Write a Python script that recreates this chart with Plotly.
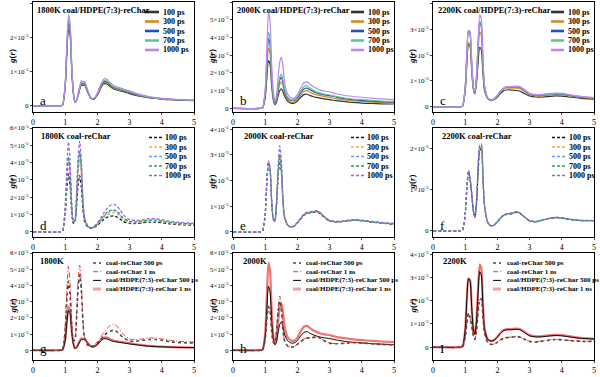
import plotly.graph_objects as go

# ---------------- data (g(r) in units of 1e-5) ----------------
R = [0, 0.85, 0.92, 1.0, 1.05, 1.1, 1.15, 1.2, 1.25, 1.3, 1.35, 1.4, 1.45, 1.5, 1.55, 1.6, 1.7, 1.8, 1.9,
     2.0, 2.1, 2.2, 2.3, 2.4, 2.5, 2.6, 2.7, 2.8, 3.0, 3.2, 3.4, 3.6, 3.8, 4.0, 4.3, 4.6, 5.0]

times = ["100 ps", "300 ps", "500 ps", "700 ps", "1000 ps"]

# 1800K coal/HDPE(7:3)-reChar
a100 = [0,0,0.03,0.55,1.5,2.25,2.1,1.1,0.4,0.12,0.15,0.3,0.48,0.62,0.6,0.62,0.4,0.22,0.2,0.32,0.52,0.65,0.64,0.56,0.5,0.47,0.44,0.42,0.36,0.31,0.27,0.24,0.22,0.2,0.18,0.17,0.15]
a300 = [0,0,0.03,0.58,1.6,2.38,2.2,1.15,0.4,0.12,0.15,0.31,0.5,0.65,0.63,0.65,0.42,0.22,0.21,0.34,0.55,0.69,0.68,0.59,0.52,0.49,0.46,0.44,0.38,0.33,0.28,0.25,0.22,0.2,0.18,0.17,0.16]
a500 = [0,0,0.03,0.6,1.65,2.45,2.28,1.2,0.42,0.12,0.16,0.32,0.52,0.67,0.65,0.66,0.43,0.23,0.22,0.35,0.57,0.71,0.7,0.61,0.54,0.51,0.48,0.45,0.39,0.34,0.29,0.25,0.23,0.21,0.19,0.17,0.16]
a700 = [0,0,0.03,0.62,1.7,2.52,2.33,1.22,0.42,0.13,0.16,0.33,0.53,0.69,0.67,0.68,0.44,0.23,0.22,0.36,0.59,0.74,0.73,0.64,0.56,0.53,0.5,0.47,0.41,0.35,0.3,0.26,0.23,0.21,0.19,0.18,0.16]
a1000 = [0,0,0.03,0.65,1.8,2.68,2.45,1.28,0.45,0.13,0.17,0.35,0.56,0.74,0.71,0.72,0.46,0.24,0.23,0.38,0.62,0.79,0.78,0.68,0.6,0.56,0.53,0.5,0.44,0.37,0.32,0.27,0.24,0.22,0.2,0.18,0.17]

# 2000K coal/HDPE(7:3)-reChar
b100 = [0,0,0.03,0.6,1.7,2.7,2.5,1.3,0.5,0.22,0.35,0.7,1.0,1.1,0.95,0.7,0.4,0.3,0.3,0.42,0.62,0.78,0.8,0.72,0.66,0.62,0.58,0.55,0.5,0.44,0.4,0.36,0.33,0.3,0.28,0.26,0.25]
b300 = [0,0,0.03,0.75,2.1,3.4,3.1,1.6,0.6,0.3,0.45,0.95,1.35,1.5,1.3,0.9,0.5,0.36,0.36,0.5,0.75,0.95,1.0,0.9,0.82,0.77,0.72,0.68,0.62,0.55,0.5,0.45,0.42,0.4,0.36,0.33,0.3]
b500 = [0,0,0.03,0.85,2.5,3.95,3.6,1.85,0.7,0.33,0.5,1.1,1.58,1.75,1.5,1.0,0.58,0.45,0.45,0.6,0.88,1.1,1.15,1.04,0.95,0.88,0.82,0.78,0.72,0.64,0.57,0.52,0.48,0.45,0.41,0.38,0.35]
b700 = [0,0,0.03,0.9,2.7,4.3,3.9,2.0,0.75,0.35,0.55,1.2,1.75,1.95,1.65,1.1,0.62,0.5,0.5,0.66,0.98,1.22,1.28,1.15,1.02,0.93,0.87,0.82,0.76,0.68,0.61,0.56,0.52,0.5,0.46,0.42,0.4]
b1000 = [0,0,0.04,1.1,3.3,5.4,4.9,2.5,0.95,0.45,0.75,1.7,2.6,2.9,2.4,1.5,0.8,0.6,0.58,0.78,1.15,1.45,1.5,1.36,1.22,1.12,1.05,1.0,0.93,0.83,0.76,0.7,0.66,0.63,0.58,0.54,0.5]

# 2200K coal/HDPE(7:3)-reChar
c100 = [0,0,0.03,0.6,1.65,2.4,2.35,1.45,0.7,0.5,0.9,1.7,2.3,2.2,1.3,0.65,0.32,0.25,0.28,0.38,0.52,0.62,0.66,0.65,0.64,0.63,0.6,0.54,0.42,0.38,0.38,0.4,0.42,0.41,0.37,0.33,0.3]
c300 = [0,0,0.03,0.62,1.7,2.48,2.4,1.5,0.72,0.52,1.0,2.1,2.9,2.75,1.55,0.72,0.33,0.26,0.3,0.42,0.58,0.7,0.73,0.72,0.72,0.72,0.7,0.63,0.47,0.42,0.42,0.45,0.47,0.46,0.41,0.36,0.33]
c500 = [0,0,0.04,0.75,2.05,2.95,2.85,1.75,0.8,0.55,1.1,2.35,3.25,3.1,1.75,0.78,0.34,0.26,0.3,0.43,0.6,0.72,0.75,0.75,0.76,0.77,0.75,0.67,0.49,0.44,0.45,0.48,0.5,0.49,0.43,0.38,0.35]
c700 = [0,0,0.04,0.72,2.0,2.85,2.78,1.72,0.78,0.56,1.12,2.4,3.3,3.15,1.78,0.8,0.34,0.26,0.3,0.43,0.6,0.72,0.76,0.76,0.77,0.78,0.76,0.68,0.5,0.45,0.46,0.49,0.51,0.5,0.44,0.39,0.35]
c1000 = [0,0,0.04,0.75,2.05,2.95,2.9,1.8,0.8,0.58,1.15,2.5,3.55,3.4,1.9,0.85,0.35,0.27,0.31,0.45,0.62,0.74,0.78,0.78,0.79,0.8,0.78,0.7,0.52,0.47,0.48,0.51,0.53,0.52,0.46,0.4,0.36]

# 1800K coal-reChar
d100 = [0,0,0.05,1.0,2.4,3.35,2.7,1.2,0.5,0.55,1.4,2.7,3.25,2.6,1.3,0.6,0.28,0.2,0.25,0.38,0.55,0.72,0.84,0.9,0.92,0.86,0.74,0.6,0.48,0.48,0.52,0.56,0.56,0.52,0.45,0.41,0.38]
d300 = [0,0,0.06,1.2,2.9,4.05,3.3,1.45,0.6,0.6,1.7,3.4,4.15,3.3,1.6,0.7,0.3,0.21,0.27,0.42,0.62,0.82,0.98,1.06,1.1,1.03,0.88,0.7,0.53,0.52,0.57,0.62,0.62,0.57,0.49,0.44,0.42]
d500 = [0,0,0.06,1.25,3.0,4.25,3.45,1.5,0.62,0.62,1.85,3.8,4.65,3.7,1.75,0.75,0.32,0.22,0.28,0.45,0.67,0.9,1.08,1.18,1.23,1.15,0.98,0.78,0.58,0.56,0.61,0.66,0.66,0.61,0.52,0.47,0.45]
d700 = [0,0,0.06,1.3,3.1,4.35,3.55,1.55,0.63,0.63,1.85,3.8,4.65,3.7,1.75,0.76,0.33,0.22,0.29,0.47,0.7,0.94,1.13,1.24,1.29,1.2,1.02,0.81,0.6,0.58,0.63,0.68,0.68,0.63,0.54,0.49,0.46]
d1000 = [0,0,0.07,1.55,3.7,5.2,4.2,1.8,0.72,0.7,2.1,4.3,5.25,4.2,2.0,0.85,0.36,0.24,0.32,0.52,0.8,1.1,1.35,1.52,1.6,1.5,1.27,1.0,0.7,0.66,0.7,0.76,0.76,0.7,0.6,0.54,0.5]

# 2000K coal-reChar
e100 = [0,0,0.04,0.7,1.9,2.7,2.45,1.2,0.5,0.4,1.0,2.1,2.75,2.35,1.2,0.55,0.25,0.18,0.22,0.35,0.5,0.65,0.72,0.74,0.76,0.78,0.72,0.6,0.42,0.38,0.4,0.43,0.45,0.43,0.38,0.34,0.3]
e300 = [0,0,0.04,0.68,1.85,2.62,2.4,1.18,0.5,0.42,1.05,2.25,2.95,2.5,1.25,0.57,0.26,0.18,0.22,0.36,0.52,0.67,0.74,0.76,0.78,0.8,0.74,0.62,0.43,0.39,0.41,0.44,0.46,0.44,0.39,0.35,0.31]
e500 = [0,0,0.04,0.7,1.9,2.68,2.45,1.2,0.5,0.42,1.08,2.3,3.05,2.58,1.28,0.58,0.26,0.19,0.23,0.37,0.53,0.68,0.75,0.77,0.79,0.81,0.75,0.63,0.44,0.4,0.42,0.45,0.47,0.45,0.4,0.36,0.32]
e700 = [0,0,0.04,0.71,1.92,2.72,2.48,1.22,0.5,0.42,1.06,2.25,2.98,2.52,1.26,0.57,0.26,0.19,0.23,0.36,0.52,0.67,0.74,0.76,0.78,0.8,0.74,0.62,0.43,0.39,0.41,0.44,0.46,0.44,0.39,0.35,0.31]
e1000 = [0,0,0.04,0.72,1.95,2.78,2.52,1.25,0.52,0.44,1.2,2.55,3.35,2.85,1.4,0.62,0.27,0.19,0.23,0.37,0.54,0.69,0.77,0.79,0.81,0.83,0.77,0.64,0.45,0.41,0.43,0.46,0.48,0.46,0.41,0.37,0.33]

# 2200K coal-reChar
f100 = [0,0,0.02,0.4,1.0,1.42,1.25,0.9,0.5,0.33,0.65,1.4,1.95,2.0,1.3,0.6,0.2,0.12,0.14,0.22,0.31,0.38,0.4,0.41,0.43,0.45,0.42,0.36,0.24,0.22,0.26,0.3,0.32,0.31,0.27,0.25,0.25]
f300 = [0,0,0.02,0.42,1.02,1.45,1.27,0.92,0.5,0.32,0.68,1.45,2.0,2.05,1.32,0.6,0.2,0.12,0.14,0.22,0.31,0.38,0.41,0.42,0.44,0.46,0.43,0.36,0.24,0.22,0.26,0.3,0.32,0.31,0.27,0.25,0.25]
f500 = [0,0,0.02,0.42,1.03,1.46,1.28,0.93,0.51,0.33,0.7,1.5,2.05,2.08,1.34,0.61,0.2,0.12,0.14,0.22,0.32,0.39,0.41,0.42,0.44,0.46,0.43,0.37,0.25,0.22,0.26,0.3,0.33,0.32,0.28,0.25,0.25]
f700 = [0,0,0.02,0.41,1.02,1.45,1.27,0.92,0.5,0.33,0.7,1.52,2.08,2.12,1.36,0.62,0.2,0.12,0.14,0.22,0.31,0.38,0.41,0.42,0.44,0.46,0.43,0.36,0.24,0.22,0.26,0.3,0.32,0.31,0.27,0.25,0.25]
f1000 = [0,0,0.02,0.43,1.04,1.47,1.29,0.93,0.51,0.34,0.71,1.5,2.05,2.08,1.34,0.61,0.21,0.12,0.14,0.23,0.32,0.39,0.42,0.43,0.45,0.47,0.44,0.37,0.25,0.23,0.27,0.31,0.33,0.32,0.28,0.26,0.25]

panel_titles = ["1800K coal/HDPE(7:3)-reChar", "2000K coal/HDPE(7:3)-reChar", "2200K coal/HDPE(7:3)-reChar",
                "1800K coal-reChar", "2000K coal-reChar", "2200K coal-reChar",
                "1800K", "2000K", "2200K"]
panel_letters = ["a", "b", "c", "d", "e", "f", "g", "h", "I"]
compare_names = ["coal-reChar 500 ps", "coal-reChar 1 ns", "coal/HDPE(7:3)-reChar 500 ps", "coal/HDPE(7:3)-reChar 1 ns"]

y_ranges = [[-0.18, 3.05], [-0.2, 6.0], [-0.2, 4.05],
            [-0.3, 6.0], [-0.2, 4.05], [-0.15, 2.5],
            [-0.6, 6.0], [-0.6, 6.0], [-0.55, 4.05]]
y_tickmax = [3, 6, 4, 6, 4, 2, 6, 6, 4]
x_ticks = [0, 1, 2, 3, 4, 5]

# ---------------- styles ----------------
solid_colors = ["#333333", "#d18f1c", "#1f4fbf", "#5fc596", "#bd86f0"]
dash_colors = ["#111111", "#f0ae3c", "#65a2e6", "#22a466", "#9d5ce6"]
FONT = "Liberation Serif"

cols = [(33, 194), (233, 394), (433, 594)]
rows = [(2, 112), (128, 237), (253, 360)]
W, H = 600, 377

def px(x):
    return x / W

def py(y):
    return 1 - y / H

fig = go.Figure()
annotations = []
shapes = []

series_sets = [
    [a100, a300, a500, a700, a1000],
    [b100, b300, b500, b700, b1000],
    [c100, c300, c500, c700, c1000],
    [d100, d300, d500, d700, d1000],
    [e100, e300, e500, e700, e1000],
    [f100, f300, f500, f700, f1000],
]
compare_sets = [
    [d500, d1000, a500, a1000],
    [e500, e1000, b500, b1000],
    [f500, f1000, c500, c1000],
]
cmp_styles = [
    dict(color="#4a4a4a", width=1.6, dash="3px,3px"),
    dict(color="#ff3333", width=1.0, dash="5px,2px,1px,2px"),
    dict(color="#000000", width=1.0, dash="solid"),
    dict(color="rgba(240,80,80,0.8)", width=2.2, dash="solid"),
]
legend_text_x = [128, 133, 133, 130, 132, 134, 71, 71, 72]
legend_samp = [(112, 126), (118, 131), (118, 131), (116, 129), (118, 131), (119, 132), (60, 68), (60, 68), (60, 68)]

for p in range(9):
    r, c = divmod(p, 3)
    ax = "" if p == 0 else str(p + 1)
    x0, x1 = cols[c]
    y0, y1 = rows[r]
    if p < 6:
        for k in range(5):
            dash = "solid" if p < 3 else "3px,2px"
            col = solid_colors[k] if p < 3 else dash_colors[k]
            fig.add_trace(go.Scatter(x=R, y=series_sets[p][k], mode="lines", name=times[k],
                                     line=dict(color=col, width=1.2, dash=dash, shape="spline", smoothing=0.6),
                                     xaxis="x" + ax, yaxis="y" + ax, showlegend=False, hoverinfo="skip"))
        names = times
        styles = [dict(color=(solid_colors[k] if p < 3 else dash_colors[k]), width=2.6 if p < 3 else 1.6,
                       dash=("solid" if p < 3 else "3px,2px")) for k in range(5)]
        offs = [10, 19.5, 29, 38.5, 48] if p < 3 else [9.5, 19, 28.5, 38, 47.5]
        fsz = 8
    else:
        order = [3, 2, 1, 0]
        for k in order:
            st = cmp_styles[k]
            fig.add_trace(go.Scatter(x=R, y=compare_sets[p - 6][k], mode="lines", name=compare_names[k],
                                     line=dict(color=st["color"], width=st["width"], dash=st["dash"],
                                               shape="spline", smoothing=0.6),
                                     xaxis="x" + ax, yaxis="y" + ax, showlegend=False, hoverinfo="skip"))
        names = compare_names
        styles = [dict(cmp_styles[0]), dict(cmp_styles[1]), dict(cmp_styles[2]),
                  dict(color="rgba(240,120,120,0.7)", width=3, dash="solid")]
        offs = [10, 18.7, 27.4, 36]
        fsz = 7
    # legend (manual)
    sx0, sx1 = legend_samp[p]
    for k, nm in enumerate(names):
        yy = y0 + offs[k]
        shapes.append(dict(type="line", xref="paper", yref="paper",
                           x0=px(x0 + sx0), x1=px(x0 + sx1), y0=py(yy), y1=py(yy),
                           line=dict(color=styles[k]["color"], width=styles[k]["width"], dash=styles[k]["dash"])))
        annotations.append(dict(text="<b>" + nm + "</b>", x=px(x0 + legend_text_x[p]), y=py(yy),
                                xref="paper", yref="paper", xanchor="left", yanchor="middle",
                                showarrow=False, font=dict(family=FONT, size=fsz, color="black")))
    # panel title
    tx = [35, 235, 436, 39, 242, 440, 38, 241, 441][p]
    annotations.append(dict(text="<b>" + panel_titles[p] + "</b>", x=px(tx), y=py(y0 + 8),
                            xref="paper", yref="paper", xanchor="left", yanchor="middle",
                            showarrow=False, font=dict(family=FONT, size=8.5, color="black")))
    # panel letter
    annotations.append(dict(text=panel_letters[p], x=px(x0 + 5), y=py(y1 - 12),
                            xref="paper", yref="paper", xanchor="left", yanchor="middle",
                            showarrow=False, font=dict(family=FONT, size=13, color="black")))
    # y title
    annotations.append(dict(text="<b><i>g</i>(<i>r</i>)</b>", x=px(x0 - 21), y=py((y0 + y1) / 2),
                            xref="paper", yref="paper", xanchor="center", yanchor="middle", textangle=-90,
                            showarrow=False, font=dict(family=FONT, size=9, color="black")))

    tv = list(range(0, y_tickmax[p] + 1))
    tt = ["0"] + [f"{v}×10<sup>-5</sup>" for v in tv[1:]]
    fig.layout["xaxis" + ax] = dict(domain=[px(x0), px(x1)], range=[0, 5], anchor="y" + ax,
                                    tickvals=x_ticks, ticks="outside", ticklen=2, tickwidth=1,
                                    linecolor="black", linewidth=1, mirror=True, showgrid=False,
                                    zeroline=False, automargin=False, fixedrange=True,
                                    tickfont=dict(family=FONT, size=8, color="black"))
    fig.layout["yaxis" + ax] = dict(domain=[py(y1), py(y0)], range=y_ranges[p], anchor="x" + ax,
                                    tickvals=tv, ticktext=tt, ticks="outside", ticklen=2, tickwidth=1,
                                    linecolor="black", linewidth=1, mirror=True, showgrid=False,
                                    zeroline=False, automargin=False, fixedrange=True,
                                    tickfont=dict(family=FONT, size=7, color="black"))

fig.update_layout(width=W, height=H, margin=dict(l=0, r=0, t=0, b=0, autoexpand=False),
                  paper_bgcolor="white", plot_bgcolor="white", showlegend=False, hovermode=False,
                  annotations=annotations, shapes=shapes)
fig.write_html("out.html", config={"displayModeBar": False, "staticPlot": True},
               post_script="document.body.style.margin='0';document.body.style.overflow='hidden';")
